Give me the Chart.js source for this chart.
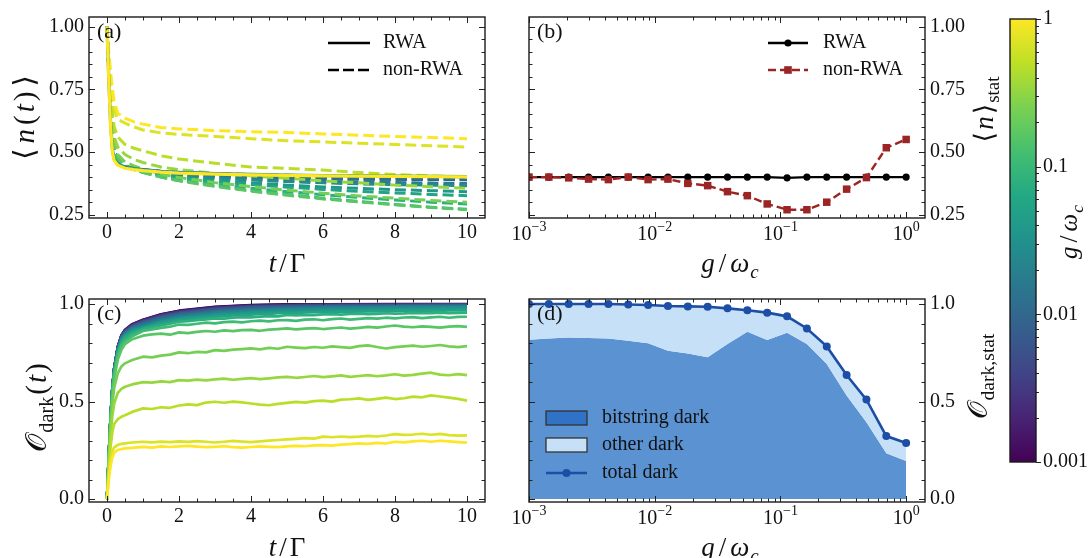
<!DOCTYPE html>
<html>
<head>
<meta charset="utf-8">
<script src="https://cdn.jsdelivr.net/npm/chart.js@4.4.1/dist/chart.umd.min.js"></script>
<style>
  html, body { margin: 0; padding: 0; background: #fff; }
  #wrap { position: relative; width: 1088px; height: 558px; overflow: hidden; background: #fff; }
  #wrap canvas { position: absolute; left: 0; top: 0; }
</style>
</head>
<body>
<div id="wrap">
  <canvas id="pa" width="1088" height="558"></canvas>
  <canvas id="pb" width="1088" height="558"></canvas>
  <canvas id="pc" width="1088" height="558"></canvas>
  <canvas id="pd" width="1088" height="558"></canvas>
  <canvas id="cb" width="1088" height="558"></canvas>
</div>
<script>
// ---------------- data ----------------
// coupling ratios g/omega_c (20 log-spaced values from 1e-3 to 1)
const gRatio = [0.001, 0.001438, 0.002069, 0.002976, 0.004281, 0.006158, 0.008859, 0.01274, 0.01833, 0.02637,
                0.03793, 0.05456, 0.07848, 0.1129, 0.1624, 0.2336, 0.3360, 0.4833, 0.6952, 1.0];

// (a) photon number <n(t)> : time grid and curves
const tA = [0, 0.05, 0.1, 0.15, 0.2, 0.3, 0.5, 0.75, 1, 1.5, 2, 3, 4, 5, 6, 7, 8, 9, 10];
const nRWA_9  = [1, 0.79, 0.615, 0.51, 0.472, 0.452, 0.44, 0.434, 0.43, 0.423, 0.419, 0.414, 0.411, 0.408, 0.406, 0.405, 0.404, 0.403, 0.402];
const nRWA_19 = [1, 0.78, 0.6, 0.5, 0.466, 0.447, 0.435, 0.43, 0.426, 0.42, 0.416, 0.412, 0.409, 0.407, 0.405, 0.404, 0.403, 0.402, 0.401];
const nonRWA_0  = [1, 0.83, 0.68, 0.575, 0.505, 0.463, 0.442, 0.434, 0.429, 0.422, 0.418, 0.413, 0.41, 0.407, 0.405, 0.404, 0.402, 0.401, 0.4];
const nonRWA_1  = [1, 0.83, 0.68, 0.575, 0.505, 0.463, 0.442, 0.434, 0.428, 0.422, 0.417, 0.412, 0.409, 0.406, 0.404, 0.403, 0.402, 0.401, 0.4];
const nonRWA_2  = [1, 0.83, 0.68, 0.575, 0.505, 0.463, 0.442, 0.433, 0.428, 0.421, 0.416, 0.411, 0.407, 0.404, 0.402, 0.4, 0.399, 0.398, 0.397];
const nonRWA_3  = [1, 0.83, 0.68, 0.575, 0.505, 0.463, 0.442, 0.433, 0.427, 0.419, 0.414, 0.407, 0.402, 0.399, 0.397, 0.395, 0.394, 0.393, 0.392];
const nonRWA_4  = [1, 0.83, 0.68, 0.575, 0.505, 0.463, 0.442, 0.433, 0.427, 0.419, 0.413, 0.406, 0.401, 0.397, 0.395, 0.393, 0.392, 0.391, 0.39];
const nonRWA_5  = [1, 0.83, 0.68, 0.575, 0.505, 0.463, 0.442, 0.433, 0.428, 0.421, 0.417, 0.412, 0.408, 0.406, 0.404, 0.403, 0.402, 0.401, 0.4];
const nonRWA_6  = [1, 0.83, 0.68, 0.575, 0.505, 0.463, 0.442, 0.433, 0.426, 0.418, 0.412, 0.405, 0.4, 0.396, 0.394, 0.392, 0.391, 0.39, 0.39];
const nonRWA_7  = [1, 0.83, 0.68, 0.575, 0.505, 0.463, 0.441, 0.432, 0.425, 0.417, 0.411, 0.404, 0.4, 0.397, 0.395, 0.394, 0.393, 0.392, 0.392];
const nonRWA_8  = [1, 0.83, 0.68, 0.575, 0.505, 0.463, 0.441, 0.431, 0.424, 0.415, 0.408, 0.399, 0.392, 0.387, 0.383, 0.38, 0.378, 0.376, 0.375];
const nonRWA_9  = [1, 0.83, 0.68, 0.575, 0.505, 0.463, 0.441, 0.431, 0.423, 0.413, 0.406, 0.396, 0.388, 0.382, 0.377, 0.373, 0.37, 0.368, 0.366];
const nonRWA_10 = [1, 0.83, 0.68, 0.575, 0.505, 0.463, 0.441, 0.43, 0.422, 0.41, 0.401, 0.388, 0.377, 0.368, 0.361, 0.355, 0.35, 0.346, 0.342];
const nonRWA_11 = [1, 0.83, 0.68, 0.575, 0.505, 0.463, 0.441, 0.43, 0.421, 0.408, 0.397, 0.382, 0.37, 0.36, 0.351, 0.343, 0.337, 0.331, 0.326];
const nonRWA_12 = [1, 0.83, 0.68, 0.575, 0.505, 0.465, 0.442, 0.43, 0.42, 0.404, 0.391, 0.372, 0.356, 0.342, 0.33, 0.319, 0.309, 0.3, 0.293];
const nonRWA_13 = [1, 0.83, 0.68, 0.58, 0.51, 0.468, 0.443, 0.43, 0.418, 0.4, 0.386, 0.365, 0.347, 0.331, 0.316, 0.303, 0.291, 0.28, 0.272];
const nonRWA_14 = [1, 0.84, 0.69, 0.59, 0.52, 0.475, 0.447, 0.432, 0.42, 0.4, 0.385, 0.363, 0.344, 0.328, 0.313, 0.301, 0.29, 0.279, 0.27];
const nonRWA_15 = [1, 0.84, 0.7, 0.6, 0.54, 0.49, 0.46, 0.445, 0.432, 0.412, 0.398, 0.378, 0.362, 0.348, 0.336, 0.325, 0.316, 0.307, 0.3];
const nonRWA_16 = [1, 0.85, 0.72, 0.62, 0.56, 0.52, 0.49, 0.47, 0.458, 0.44, 0.43, 0.415, 0.405, 0.395, 0.385, 0.377, 0.368, 0.362, 0.355];
const nonRWA_17 = [1, 0.86, 0.75, 0.66, 0.6, 0.56, 0.53, 0.515, 0.505, 0.485, 0.472, 0.455, 0.44, 0.435, 0.428, 0.418, 0.41, 0.405, 0.4];
const nonRWA_18 = [1, 0.88, 0.79, 0.72, 0.67, 0.63, 0.615, 0.6, 0.588, 0.576, 0.57, 0.562, 0.553, 0.545, 0.54, 0.535, 0.53, 0.525, 0.52];
const nonRWA_19 = [1, 0.9, 0.82, 0.75, 0.7, 0.655, 0.635, 0.62, 0.611, 0.598, 0.592, 0.585, 0.581, 0.578, 0.572, 0.567, 0.562, 0.558, 0.553];

// (b) stationary photon number
const nStatRWA    = [0.40, 0.40, 0.40, 0.40, 0.40, 0.40, 0.40, 0.40, 0.40, 0.40, 0.40, 0.40, 0.40, 0.397, 0.40, 0.40, 0.40, 0.40, 0.40, 0.40];
const nStatNonRWA = [0.40, 0.40, 0.397, 0.392, 0.39, 0.40, 0.39, 0.392, 0.375, 0.366, 0.342, 0.326, 0.293, 0.27, 0.27, 0.30, 0.352, 0.398, 0.517, 0.55];

// (c) dark-state population O_dark(t)
const tCoarse = [0, 0.05, 0.1, 0.15, 0.2, 0.3, 0.4, 0.5, 0.7, 1, 1.5, 2, 3, 4, 5, 6, 8, 10];
const tFine = [0, 0.05, 0.1, 0.15, 0.2, 0.3, 0.4, 0.5, 0.7,
  1, 1.25, 1.5, 1.75, 2, 2.25, 2.5, 2.75, 3, 3.25, 3.5, 3.75, 4, 4.25, 4.5, 4.75, 5, 5.25, 5.5, 5.75,
  6, 6.25, 6.5, 6.75, 7, 7.25, 7.5, 7.75, 8, 8.25, 8.5, 8.75, 9, 9.25, 9.5, 9.75, 10];
const dark_0  = [0, 0.22, 0.42, 0.57, 0.67, 0.78, 0.84, 0.868, 0.897, 0.92, 0.948, 0.966, 0.986, 0.995, 0.998, 0.999, 1, 1];
const dark_1  = [0, 0.22, 0.42, 0.57, 0.67, 0.78, 0.838, 0.866, 0.895, 0.918, 0.946, 0.964, 0.984, 0.993, 0.997, 0.998, 0.999, 0.999];
const dark_2  = [0, 0.22, 0.42, 0.57, 0.67, 0.78, 0.837, 0.865, 0.893, 0.916, 0.944, 0.962, 0.982, 0.991, 0.995, 0.997, 0.998, 0.998];
const dark_3  = [0, 0.22, 0.42, 0.57, 0.67, 0.779, 0.836, 0.863, 0.891, 0.914, 0.942, 0.96, 0.98, 0.989, 0.993, 0.995, 0.996, 0.997];
const dark_4  = [0, 0.22, 0.42, 0.57, 0.669, 0.778, 0.834, 0.861, 0.889, 0.911, 0.939, 0.957, 0.977, 0.987, 0.991, 0.993, 0.995, 0.996];
const dark_5  = [0, 0.22, 0.42, 0.57, 0.668, 0.776, 0.832, 0.858, 0.886, 0.908, 0.935, 0.953, 0.973, 0.984, 0.989, 0.991, 0.993, 0.995];
const dark_6  = [0, 0.22, 0.42, 0.569, 0.667, 0.774, 0.829, 0.855, 0.882, 0.904, 0.93, 0.948, 0.968, 0.98, 0.985, 0.988, 0.991, 0.993];
const dark_7  = [0, 0.22, 0.42, 0.568, 0.665, 0.771, 0.827, 0.853, 0.879, 0.898, 0.924, 0.942, 0.962, 0.974, 0.98, 0.984, 0.988, 0.99];
const dark_8  = [0, 0.22, 0.419, 0.567, 0.663, 0.768, 0.824, 0.85, 0.873, 0.89, 0.918, 0.936, 0.957, 0.969, 0.976, 0.98, 0.985, 0.988];
const dark_9  = [0, 0.22, 0.418, 0.565, 0.66, 0.765, 0.82, 0.845, 0.868, 0.885, 0.912, 0.93, 0.95, 0.962, 0.97, 0.975, 0.981, 0.985];
const dark_10 = [0, 0.22, 0.417, 0.562, 0.656, 0.76, 0.814, 0.838, 0.862, 0.88, 0.906, 0.925, 0.944, 0.955, 0.962, 0.967, 0.973, 0.978];
const dark_11 = [0, 0.22, 0.416, 0.56, 0.652, 0.755, 0.808, 0.832, 0.857,
  0.876, 0.888, 0.899, 0.908, 0.918, 0.921, 0.927, 0.931, 0.936, 0.938, 0.942, 0.944, 0.946, 0.949, 0.95, 0.953, 0.955, 0.954, 0.957,
  0.958, 0.96, 0.958, 0.961, 0.962, 0.961, 0.963, 0.964, 0.962, 0.965, 0.966, 0.964, 0.966, 0.967, 0.965, 0.967, 0.968, 0.968];
const dark_12 = [0, 0.22, 0.415, 0.557, 0.648, 0.748, 0.8, 0.823, 0.848,
  0.87, 0.881, 0.89, 0.899, 0.91, 0.913, 0.918, 0.922, 0.926, 0.925, 0.93, 0.933, 0.932, 0.936, 0.938, 0.937, 0.944, 0.942, 0.945,
  0.943, 0.947, 0.948, 0.946, 0.949, 0.951, 0.948, 0.95, 0.953, 0.951, 0.952, 0.955, 0.953, 0.954, 0.956, 0.954, 0.955, 0.956];
const dark_13 = [0, 0.22, 0.413, 0.553, 0.642, 0.738, 0.788, 0.81, 0.835,
  0.862, 0.87, 0.878, 0.884, 0.895, 0.893, 0.899, 0.905, 0.901, 0.907, 0.91, 0.906, 0.912, 0.915, 0.911, 0.917, 0.918, 0.914, 0.92,
  0.922, 0.917, 0.923, 0.926, 0.92, 0.924, 0.928, 0.925, 0.93, 0.927, 0.931, 0.933, 0.928, 0.932, 0.935, 0.93, 0.934, 0.935];
const dark_14 = [0, 0.21, 0.4, 0.53, 0.62, 0.715, 0.765, 0.795, 0.82,
  0.838, 0.845, 0.848, 0.843, 0.855, 0.851, 0.857, 0.862, 0.858, 0.865, 0.861, 0.866, 0.868, 0.863, 0.869, 0.872, 0.875, 0.87, 0.874,
  0.877, 0.872, 0.876, 0.88, 0.874, 0.878, 0.883, 0.879, 0.885, 0.89, 0.884, 0.881, 0.886, 0.883, 0.879, 0.884, 0.887, 0.883];
const dark_15 = [0, 0.2, 0.37, 0.49, 0.57, 0.645, 0.68, 0.696, 0.713,
  0.73, 0.727, 0.736, 0.741, 0.752, 0.748, 0.755, 0.752, 0.764, 0.76, 0.766, 0.769, 0.773, 0.768, 0.775, 0.771, 0.781, 0.777, 0.774,
  0.78, 0.776, 0.783, 0.779, 0.775, 0.784, 0.788, 0.78, 0.772, 0.779, 0.783, 0.787, 0.781, 0.785, 0.79, 0.783, 0.779, 0.784];
const dark_16 = [0, 0.18, 0.33, 0.43, 0.49, 0.545, 0.565, 0.576, 0.588,
  0.6, 0.597, 0.604, 0.6, 0.61, 0.607, 0.613, 0.609, 0.614, 0.618, 0.612, 0.616, 0.62, 0.615, 0.619, 0.624, 0.627, 0.622, 0.626,
  0.631, 0.625, 0.629, 0.634, 0.627, 0.631, 0.636, 0.63, 0.634, 0.64, 0.633, 0.637, 0.643, 0.648, 0.638, 0.635, 0.641, 0.636];
const dark_17 = [0, 0.15, 0.27, 0.345, 0.385, 0.41, 0.422, 0.43, 0.447,
  0.465, 0.462, 0.471, 0.468, 0.48, 0.486, 0.482, 0.495, 0.499, 0.494, 0.5, 0.496, 0.49, 0.484, 0.481, 0.488, 0.493, 0.498, 0.495,
  0.502, 0.505, 0.5, 0.51, 0.512, 0.516, 0.509, 0.514, 0.52, 0.513, 0.517, 0.525, 0.522, 0.532, 0.526, 0.52, 0.514, 0.505];
const dark_18 = [0, 0.12, 0.2, 0.245, 0.265, 0.278, 0.283, 0.286, 0.29,
  0.294, 0.291, 0.295, 0.292, 0.296, 0.293, 0.297, 0.294, 0.29, 0.294, 0.298, 0.295, 0.292, 0.296, 0.3, 0.303, 0.306, 0.309, 0.313,
  0.31, 0.32, 0.317, 0.321, 0.318, 0.32, 0.324, 0.321, 0.326, 0.333, 0.329, 0.331, 0.335, 0.33, 0.334, 0.328, 0.325, 0.327];
const dark_19 = [0, 0.1, 0.17, 0.215, 0.238, 0.252, 0.257, 0.26, 0.263,
  0.268, 0.264, 0.27, 0.267, 0.27, 0.273, 0.269, 0.266, 0.268, 0.271, 0.266, 0.264, 0.267, 0.27, 0.268, 0.266, 0.27, 0.273, 0.271,
  0.275, 0.277, 0.274, 0.279, 0.282, 0.286, 0.283, 0.288, 0.285, 0.294, 0.291, 0.296, 0.299, 0.294, 0.299, 0.296, 0.292, 0.289];

// (d) stationary dark-state populations
const darkTotal     = [1.0, 1.0, 1.0, 1.0, 1.0, 0.998, 0.995, 0.99, 0.988, 0.986, 0.978, 0.968, 0.956, 0.937, 0.875, 0.783, 0.636, 0.51, 0.323, 0.288];
const darkBitstring = [0.817, 0.823, 0.828, 0.826, 0.823, 0.812, 0.799, 0.761, 0.747, 0.727, 0.795, 0.858, 0.816, 0.853, 0.795, 0.693, 0.531, 0.394, 0.235, 0.195];

// tick labels
const timeTicks = [0, 2, 4, 6, 8, 10];
const nTicks = [0.25, 0.5, 0.75, 1.0];
const darkTicks = [0.0, 0.5, 1.0];
const gTicks = [0.001, 0.01, 0.1, 1];
const cbarTicks = [0.001, 0.01, 0.1, 1];

// ---------------- helpers ----------------
const W = 1088, H = 558;
const SERIF = "'Liberation Serif', 'DejaVu Serif', serif";
Chart.defaults.font.family = SERIF;
Chart.defaults.color = '#111';

const VIR = ['#440154', '#482475', '#414487', '#355f8d', '#2a788e', '#21918c', '#22a884', '#44bf70', '#7ad151', '#bddf26', '#fde725'];
function hexRgb(h) { return [1, 3, 5].map(i => parseInt(h.slice(i, i + 2), 16)); }
function viridis(t) {
  t = Math.max(0, Math.min(1, t));
  const s = t * 10, i = Math.min(9, Math.floor(s)), f = s - i;
  const a = hexRgb(VIR[i]), b = hexRgb(VIR[i + 1]);
  return 'rgb(' + a.map((v, k) => Math.round(v + (b[k] - v) * f)).join(',') + ')';
}
function gColor(g) { return viridis((Math.log10(g) + 3) / 3); }

// text made of runs [text, kind, extraSpaceAfter]:
// kind n upright, i italic, s subscript, si italic subscript, p superscript
function runs(ctx, parts, cx, cy, size, rot) {
  ctx.save();
  ctx.translate(cx, cy);
  if (rot) ctx.rotate(rot);
  const small = size * 0.7;
  const font = k => ((k === 'i' || k === 'si') ? 'italic ' : '') + ((k === 's' || k === 'si' || k === 'p') ? small : size) + 'px ' + SERIF;
  const shift = k => (k === 's' || k === 'si') ? size * 0.24 : (k === 'p' ? -size * 0.42 : 0);
  let total = 0;
  const widths = parts.map(([t, k, gap], i) => {
    ctx.font = font(k);
    const w = ctx.measureText(t).width + (i < parts.length - 1 ? (gap || 0) : 0);
    total += w; return w;
  });
  let x = -total / 2;
  ctx.fillStyle = '#111'; ctx.textAlign = 'left'; ctx.textBaseline = 'alphabetic';
  parts.forEach(([t, k], i) => { ctx.font = font(k); ctx.fillText(t, x, size * 0.33 + shift(k)); x += widths[i]; });
  ctx.restore();
}
function text(ctx, s, x, y, size, align) {
  ctx.save();
  ctx.font = size + 'px ' + SERIF; ctx.fillStyle = '#111';
  ctx.textAlign = align || 'left'; ctx.textBaseline = 'middle';
  ctx.fillText(s, x, y);
  ctx.restore();
}
function tag(ctx, s, a) {
  ctx.save();
  ctx.font = '22px ' + SERIF; ctx.fillStyle = '#111';
  ctx.textAlign = 'left'; ctx.textBaseline = 'alphabetic';
  ctx.fillText(s, a.left + 8, a.top + 21);
  ctx.restore();
}

function range(a, b, step, skip) {
  const out = [];
  for (let v = a; v <= b + 1e-9; v += step) {
    const r = Math.round(v * 1000) / 1000;
    if (!skip || !skip.some(s => Math.abs(s - r) < 1e-6)) out.push(r);
  }
  return out;
}
function logMinor(lo, hi) {
  const out = [];
  for (let d = -4; d <= 1; d++) for (let m = 2; m <= 9; m++) { const v = m * Math.pow(10, d); if (v > lo && v < hi) out.push(v); }
  return out;
}

const series = (xs, ys) => xs.map((x, i) => ({ x, y: ys[i] }));
const brown = '#9b2424';
const blueLine = '#1c4ea5', blueArea = '#5b92d2', blueLight = '#c6e0f7', bluePatch = '#2f72c6';

// axis titles
const T_OVER_GAMMA = [['t', 'i', 3], ['/', 'n', 3], ['Γ', 'n']];
const G_OVER_OMEGA = [['g', 'i', 4], ['/', 'n', 4], ['ω', 'i', 1], ['c', 'si']];
const N_OF_T = [['⟨', 'n', 5], ['n', 'i', 4], ['(', 'n', 3], ['t', 'i', 3], [')', 'n', 5], ['⟩', 'n']];
const N_STAT = [['⟨', 'n', 2], ['n', 'i', 2], ['⟩', 'n', 1], ['stat', 's']];
const O_DARK_T = [['𝒪', 'n', 1], ['dark', 's', 2], ['(', 'n', 2], ['t', 'i', 2], [')', 'n']];
const O_DARK_STAT = [['𝒪', 'n', 1], ['dark,stat', 's']];

// ---------------- overlays: frames, ticks, labels, legends ----------------
const frameSpecs = {
  pa: { xMaj: timeTicks, xMin: range(0.5, 9.5, 0.5, timeTicks), yMaj: nTicks, yMin: range(0.25, 1.0, 0.05, nTicks) },
  pb: { xMaj: gTicks, xMin: logMinor(0.001, 1.4125), yMaj: nTicks, yMin: range(0.25, 1.0, 0.05, nTicks) },
  pc: { xMaj: timeTicks, xMin: range(0.5, 9.5, 0.5, timeTicks), yMaj: darkTicks, yMin: range(0.1, 0.9, 0.1, darkTicks) },
  pd: { xMaj: gTicks, xMin: logMinor(0.001, 1.4125), yMaj: darkTicks, yMin: range(0.1, 0.9, 0.1, darkTicks) },
  cb: { cbar: true, yMaj: cbarTicks, yMin: logMinor(0.001, 1) }
};

function logTickLabels(chart) {
  const { ctx, chartArea: a } = chart;
  const sx = chart.scales.x;
  gTicks.forEach(v => {
    const e = Math.round(Math.log10(v));
    runs(ctx, [['10', 'n'], [e < 0 ? '−' + (-e) : String(e), 'p']], sx.getPixelForValue(v), a.bottom + 15, 20, 0);
  });
}

const drawers = {
  pa(chart) {
    const { ctx, chartArea: a } = chart;
    tag(ctx, '(a)', a);
    runs(ctx, N_OF_T, 24, (a.top + a.bottom) / 2, 29, -Math.PI / 2);
    runs(ctx, T_OVER_GAMMA, (a.left + a.right) / 2, a.bottom + 45, 27, 0);
    ctx.save();
    ctx.strokeStyle = '#000'; ctx.lineWidth = 2.6;
    ctx.beginPath(); ctx.moveTo(a.left + 239, a.top + 26); ctx.lineTo(a.left + 281, a.top + 26); ctx.stroke();
    ctx.setLineDash([11, 4]);
    ctx.beginPath(); ctx.moveTo(a.left + 239, a.top + 53); ctx.lineTo(a.left + 281, a.top + 53); ctx.stroke();
    ctx.restore();
    text(ctx, 'RWA', a.left + 294, a.top + 26, 20);
    text(ctx, 'non-RWA', a.left + 294, a.top + 53, 20);
  },
  pb(chart) {
    const { ctx, chartArea: a } = chart;
    tag(ctx, '(b)', a);
    logTickLabels(chart);
    runs(ctx, N_STAT, 984, (a.top + a.bottom) / 2 - 8, 27, -Math.PI / 2);
    runs(ctx, G_OVER_OMEGA, (a.left + a.right) / 2 + 3, a.bottom + 45, 27, 0);
    ctx.save();
    ctx.lineWidth = 2.4;
    ctx.strokeStyle = '#000'; ctx.fillStyle = '#000';
    ctx.beginPath(); ctx.moveTo(a.left + 239, a.top + 26); ctx.lineTo(a.left + 279, a.top + 26); ctx.stroke();
    ctx.beginPath(); ctx.arc(a.left + 259, a.top + 26, 3.6, 0, Math.PI * 2); ctx.fill();
    ctx.strokeStyle = brown; ctx.fillStyle = brown; ctx.setLineDash([8, 4]);
    ctx.beginPath(); ctx.moveTo(a.left + 239, a.top + 53); ctx.lineTo(a.left + 279, a.top + 53); ctx.stroke();
    ctx.fillRect(a.left + 259 - 3.8, a.top + 53 - 3.8, 7.6, 7.6);
    ctx.restore();
    text(ctx, 'RWA', a.left + 294, a.top + 26, 20);
    text(ctx, 'non-RWA', a.left + 294, a.top + 53, 20);
  },
  pc(chart) {
    const { ctx, chartArea: a } = chart;
    tag(ctx, '(c)', a);
    runs(ctx, O_DARK_T, 36, (a.top + a.bottom) / 2 + 7, 29, -Math.PI / 2);
    runs(ctx, T_OVER_GAMMA, (a.left + a.right) / 2, a.bottom + 45, 27, 0);
  },
  pd(chart) {
    const { ctx, chartArea: a } = chart;
    tag(ctx, '(d)', a);
    logTickLabels(chart);
    runs(ctx, O_DARK_STAT, 978, (a.top + a.bottom) / 2 - 24, 28, -Math.PI / 2);
    runs(ctx, G_OVER_OMEGA, (a.left + a.right) / 2 + 3, a.bottom + 45, 27, 0);
    ctx.save();
    ctx.lineWidth = 1.3; ctx.strokeStyle = '#333';
    ctx.fillStyle = bluePatch; ctx.fillRect(a.left + 17, a.top + 112, 41, 14); ctx.strokeRect(a.left + 17, a.top + 112, 41, 14);
    ctx.fillStyle = blueLight; ctx.fillRect(a.left + 17, a.top + 139, 41, 14); ctx.strokeRect(a.left + 17, a.top + 139, 41, 14);
    ctx.strokeStyle = blueLine; ctx.fillStyle = blueLine; ctx.lineWidth = 2.6;
    ctx.beginPath(); ctx.moveTo(a.left + 17, a.top + 174); ctx.lineTo(a.left + 58, a.top + 174); ctx.stroke();
    ctx.beginPath(); ctx.arc(a.left + 37.5, a.top + 174, 4, 0, Math.PI * 2); ctx.fill();
    ctx.restore();
    text(ctx, 'bitstring dark', a.left + 73, a.top + 119, 20);
    text(ctx, 'other dark', a.left + 73, a.top + 146, 20);
    text(ctx, 'total dark', a.left + 73, a.top + 174, 20);
  },
  cb(chart) {
    runs(chart.ctx, G_OVER_OMEGA, 1069, 232, 25, -Math.PI / 2);
  }
};

const framePlugin = {
  id: 'frameTicks',
  afterDraw(chart) {
    const id = chart.canvas.id;
    const spec = frameSpecs[id];
    const { ctx, chartArea: a } = chart;
    if (spec) {
      const sx = chart.scales.x, sy = chart.scales.y;
      ctx.save();
      ctx.strokeStyle = '#222'; ctx.lineWidth = 1;
      ctx.beginPath();
      if (spec.cbar) {
        const hy = (v, len) => { const p = Math.round(sy.getPixelForValue(v)) + 0.5; ctx.moveTo(a.right, p); ctx.lineTo(a.right + len, p); };
        spec.yMaj.forEach(v => hy(v, 5)); spec.yMin.forEach(v => hy(v, 3));
      } else {
        const vx = (v, len) => {
          const p = Math.round(sx.getPixelForValue(v)) + 0.5;
          if (p < a.left || p > a.right) return;
          ctx.moveTo(p, a.bottom); ctx.lineTo(p, a.bottom - len);
          ctx.moveTo(p, a.top); ctx.lineTo(p, a.top + len);
        };
        const hy = (v, len) => {
          const p = Math.round(sy.getPixelForValue(v)) + 0.5;
          if (p < a.top || p > a.bottom) return;
          ctx.moveTo(a.left, p); ctx.lineTo(a.left + len, p);
          ctx.moveTo(a.right, p); ctx.lineTo(a.right - len, p);
        };
        spec.xMaj.forEach(v => vx(v, 6)); spec.xMin.forEach(v => vx(v, 3.5));
        spec.yMaj.forEach(v => hy(v, 6)); spec.yMin.forEach(v => hy(v, 3.5));
      }
      ctx.stroke();
      ctx.lineWidth = 1.4; ctx.strokeStyle = '#1a1a1a';
      ctx.strokeRect(a.left, a.top, a.right - a.left, a.bottom - a.top);
      ctx.restore();
    }
    if (drawers[id]) drawers[id](chart);
  }
};

function baseOptions(box, yRight, xScale, yScale) {
  xScale.afterFit = s => { s.height = H - box.b; };
  yScale.afterFit = s => { s.width = yRight ? W - box.r : box.l; };
  yScale.position = yRight ? 'right' : 'left';
  return {
    responsive: false, animation: false, events: [],
    layout: { padding: { left: yRight ? box.l : 0, right: yRight ? 0 : W - box.r, top: box.t, bottom: 0 } },
    plugins: { legend: { display: false }, tooltip: { enabled: false } },
    scales: { x: xScale, y: yScale }
  };
}
const tickFont = { family: SERIF, size: 20 };
const noGrid = { display: false, drawTicks: false, tickLength: 0 };
const noBorder = { display: false };
function fixedTicks(list) { return s => { s.ticks = list.map(v => ({ value: v })); }; }

// ---------------- (a) ----------------
const nonRWACurves = [nonRWA_0, nonRWA_1, nonRWA_2, nonRWA_3, nonRWA_4, nonRWA_5, nonRWA_6, nonRWA_7, nonRWA_8, nonRWA_9,
  nonRWA_10, nonRWA_11, nonRWA_12, nonRWA_13, nonRWA_14, nonRWA_15, nonRWA_16, nonRWA_17, nonRWA_18, nonRWA_19];
const dsA = nonRWACurves.map((arr, k) => ({
  data: series(tA, arr), borderColor: gColor(gRatio[k]), borderWidth: 3, borderDash: [11, 5],
  pointRadius: 0, fill: false, tension: 0
}));
dsA.push({ data: series(tA, nRWA_9), borderColor: gColor(gRatio[9]), borderWidth: 3.2, pointRadius: 0, fill: false, tension: 0 });
dsA.push({ data: series(tA, nRWA_19), borderColor: gColor(gRatio[19]), borderWidth: 3.2, pointRadius: 0, fill: false, tension: 0 });
dsA.forEach((d, i) => { d.order = -i; });

new Chart(document.getElementById('pa'), {
  type: 'line',
  data: { datasets: dsA },
  options: baseOptions({ l: 89, t: 14, r: 485, b: 218 }, false,
    { type: 'linear', min: -0.5, max: 10.5, grid: noGrid, border: noBorder, afterBuildTicks: fixedTicks(timeTicks),
      ticks: { font: tickFont, color: '#111', padding: 3, maxRotation: 0, callback: v => String(v) } },
    { type: 'linear', min: 0.237, max: 1.038, grid: noGrid, border: noBorder, afterBuildTicks: fixedTicks(nTicks),
      ticks: { font: tickFont, color: '#111', padding: 5, callback: v => v.toFixed(2) } }),
  plugins: [framePlugin]
});

// ---------------- (b) ----------------
new Chart(document.getElementById('pb'), {
  type: 'line',
  data: { datasets: [
    { data: series(gRatio, nStatNonRWA), borderColor: brown, borderWidth: 2.4, borderDash: [8, 4], pointStyle: 'rect',
      pointRadius: 5.3, pointBackgroundColor: brown, pointBorderWidth: 0, fill: false, tension: 0 },
    { data: series(gRatio, nStatRWA), borderColor: '#000', borderWidth: 2.4, pointStyle: 'circle',
      pointRadius: 3.6, pointBackgroundColor: '#000', pointBorderWidth: 0, fill: false, tension: 0 }
  ] },
  options: baseOptions({ l: 529, t: 14, r: 925, b: 218 }, true,
    { type: 'logarithmic', min: 0.001, max: 1.4125, grid: noGrid, border: noBorder, afterBuildTicks: fixedTicks(gTicks),
      ticks: { display: false } },
    { type: 'linear', min: 0.237, max: 1.038, grid: noGrid, border: noBorder, afterBuildTicks: fixedTicks(nTicks),
      ticks: { font: tickFont, color: '#111', padding: 5, callback: v => v.toFixed(2) } }),
  plugins: [framePlugin]
});

// ---------------- (c) ----------------
const darkCurves = [
  [tCoarse, dark_0], [tCoarse, dark_1], [tCoarse, dark_2], [tCoarse, dark_3], [tCoarse, dark_4], [tCoarse, dark_5],
  [tCoarse, dark_6], [tCoarse, dark_7], [tCoarse, dark_8], [tCoarse, dark_9], [tCoarse, dark_10],
  [tFine, dark_11], [tFine, dark_12], [tFine, dark_13], [tFine, dark_14], [tFine, dark_15], [tFine, dark_16],
  [tFine, dark_17], [tFine, dark_18], [tFine, dark_19]
];
const dsC = darkCurves.map(([ts, vs], k) => ({
  data: series(ts, vs), borderColor: gColor(gRatio[k]), borderWidth: 2.7, borderJoinStyle: 'round',
  pointRadius: 0, fill: false, tension: 0, order: -k
}));
new Chart(document.getElementById('pc'), {
  type: 'line',
  data: { datasets: dsC },
  options: baseOptions({ l: 89, t: 299, r: 485, b: 502 }, false,
    { type: 'linear', min: -0.5, max: 10.5, grid: noGrid, border: noBorder, afterBuildTicks: fixedTicks(timeTicks),
      ticks: { font: tickFont, color: '#111', padding: 3, maxRotation: 0, callback: v => String(v) } },
    { type: 'linear', min: -0.015, max: 1.026, grid: noGrid, border: noBorder, afterBuildTicks: fixedTicks(darkTicks),
      ticks: { font: tickFont, color: '#111', padding: 5, callback: v => v.toFixed(1) } }),
  plugins: [framePlugin]
});

// ---------------- (d) ----------------
new Chart(document.getElementById('pd'), {
  type: 'line',
  data: { datasets: [
    { data: series(gRatio, darkTotal), borderColor: blueLine, borderWidth: 2.6, pointStyle: 'circle', pointRadius: 4,
      pointBackgroundColor: blueLine, pointBorderWidth: 0, fill: false, tension: 0 },
    { data: series(gRatio, darkTotal), borderWidth: 0, pointRadius: 0, backgroundColor: blueLight, fill: '+1', tension: 0 },
    { data: series(gRatio, darkBitstring), borderWidth: 0, pointRadius: 0, backgroundColor: blueArea, fill: 'origin', tension: 0 }
  ] },
  options: baseOptions({ l: 529, t: 299, r: 925, b: 502 }, true,
    { type: 'logarithmic', min: 0.001, max: 1.4125, grid: noGrid, border: noBorder, afterBuildTicks: fixedTicks(gTicks),
      ticks: { display: false } },
    { type: 'linear', min: -0.015, max: 1.026, grid: noGrid, border: noBorder, afterBuildTicks: fixedTicks(darkTicks),
      ticks: { font: tickFont, color: '#111', padding: 5, callback: v => v.toFixed(1) } }),
  plugins: [framePlugin]
});

// ---------------- colour bar ----------------
const boxCB = { l: 1010, t: 13, r: 1036, b: 462 };
new Chart(document.getElementById('cb'), {
  type: 'bar',
  data: { labels: [''], datasets: [{
    data: [[cbarTicks[0], cbarTicks[cbarTicks.length - 1]]], borderWidth: 0, barPercentage: 1, categoryPercentage: 1,
    backgroundColor: ctx => {
      const ca = ctx.chart.chartArea;
      if (!ca) return '#888';
      const grad = ctx.chart.ctx.createLinearGradient(0, ca.bottom, 0, ca.top);
      for (let i = 0; i <= 20; i++) grad.addColorStop(i / 20, viridis(i / 20));
      return grad;
    }
  }] },
  options: {
    responsive: false, animation: false, events: [],
    layout: { padding: { left: boxCB.l, right: 0, top: boxCB.t, bottom: H - boxCB.b } },
    plugins: { legend: { display: false }, tooltip: { enabled: false } },
    scales: {
      x: { display: false },
      y: { type: 'logarithmic', position: 'right', min: 0.001, max: 1, grid: noGrid, border: noBorder,
           afterBuildTicks: fixedTicks(cbarTicks), afterFit: s => { s.width = W - boxCB.r; },
           ticks: { font: tickFont, color: '#111', padding: 7, callback: v => String(v) } }
    }
  },
  plugins: [framePlugin]
});
</script>
</body>
</html>
